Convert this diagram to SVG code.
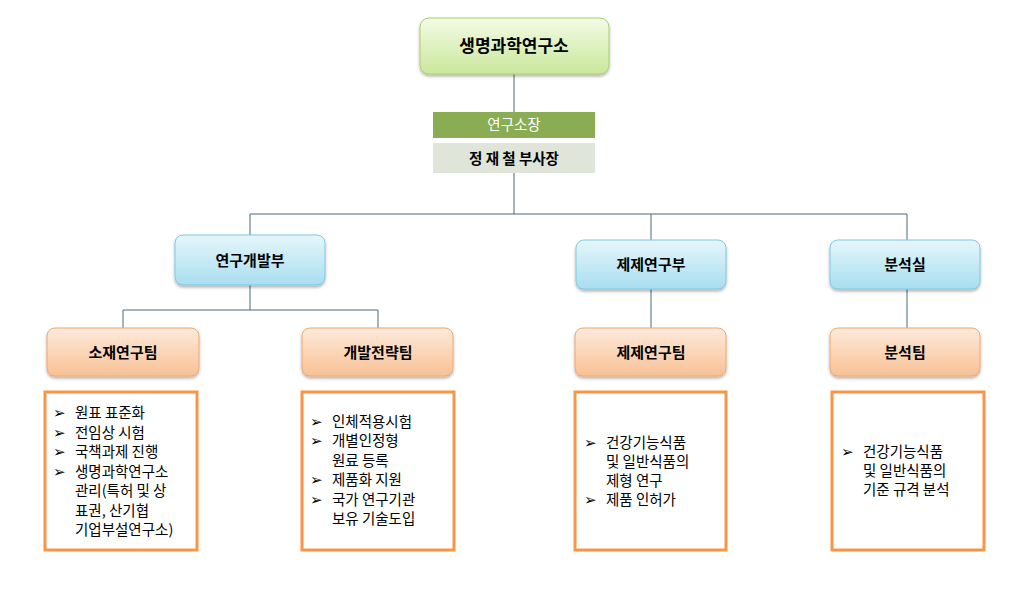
<svg xmlns="http://www.w3.org/2000/svg" width="1026" height="611" viewBox="0 0 1026 611">
<defs>
<linearGradient id="gG" x1="0" y1="0" x2="0" y2="1"><stop offset="0" stop-color="#f4fbe6"/><stop offset="1" stop-color="#c9e79b"/></linearGradient>
<linearGradient id="gB" x1="0" y1="0" x2="0" y2="1"><stop offset="0" stop-color="#e6f6fb"/><stop offset="1" stop-color="#a8def0"/></linearGradient>
<linearGradient id="gO" x1="0" y1="0" x2="0" y2="1"><stop offset="0" stop-color="#fdeadb"/><stop offset="1" stop-color="#f8c195"/></linearGradient>
<filter id="sh" x="-10%" y="-10%" width="120%" height="130%"><feDropShadow dx="0" dy="2" stdDeviation="1.5" flood-color="#000" flood-opacity="0.3"/></filter>
</defs>
<style>
text{font-family:"Noto Sans CJK KR","Noto Sans",sans-serif;fill:#000}
.t{font-size:15px;font-weight:bold;text-anchor:middle}
.b{font-size:14.5px}
.g{stroke:#a8cf6a;stroke-width:1}
.bl{stroke:#7dc9e3;stroke-width:1}
.o{stroke:#f0a86b;stroke-width:1}
.box{fill:#fff;stroke:#f79646;stroke-width:3}
.ln{stroke:#4a6b80;stroke-width:1;fill:none}
</style>
<rect width="1026" height="611" fill="#fff"/>
<g id="connectors">
<path class="ln" d="M514 74V112M514 173V214M250 214H907M250 214V235M651 214V240M907 214V240M250 285V310M123 310H378M123 310V328M378 310V328M651 289V328M907 289V328"/>
</g>
<g id="root"><rect x="420" y="18" width="189" height="56" rx="9" fill="url(#gG)" class="g" filter="url(#sh)"/><text class="t" x="514" y="52" style="font-size:17px">생명과학연구소</text></g>
<g id="director"><rect x="433" y="112" width="162" height="26" fill="#8aac52"/><text x="514" y="130" style="font-size:14.5px;text-anchor:middle;fill:#fff">연구소장</text></g>
<g id="vice"><rect x="433" y="143" width="162" height="30" fill="#dfe5d8"/><text x="514" y="164" style="font-size:14.5px;font-weight:bold;text-anchor:middle">정 재 철 부사장</text></g>
<g id="rnd"><rect x="175" y="235" width="150" height="50" rx="8" fill="url(#gB)" class="bl" filter="url(#sh)"/><text class="t" x="250" y="266">연구개발부</text></g>
<g id="formul"><rect x="576" y="240" width="150" height="49" rx="8" fill="url(#gB)" class="bl" filter="url(#sh)"/><text class="t" x="651" y="270">제제연구부</text></g>
<g id="analysis"><rect x="830" y="240" width="150" height="49" rx="8" fill="url(#gB)" class="bl" filter="url(#sh)"/><text class="t" x="905" y="270">분석실</text></g>
<g id="team1"><rect x="47" y="328" width="152" height="48" rx="8" fill="url(#gO)" class="o" filter="url(#sh)"/><text class="t" x="123" y="358">소재연구팀</text></g>
<g id="team2"><rect x="302" y="328" width="151" height="48" rx="8" fill="url(#gO)" class="o" filter="url(#sh)"/><text class="t" x="378" y="358">개발전략팀</text></g>
<g id="team3"><rect x="575" y="328" width="151" height="48" rx="8" fill="url(#gO)" class="o" filter="url(#sh)"/><text class="t" x="651" y="358">제제연구팀</text></g>
<g id="team4"><rect x="830" y="328" width="150" height="48" rx="8" fill="url(#gO)" class="o" filter="url(#sh)"/><text class="t" x="905" y="358">분석팀</text></g>
<g id="desc1"><rect class="box" x="45" y="392" width="152" height="158"/>
<text class="b"><tspan x="53" y="418">➢</tspan><tspan x="75" y="418">원표 표준화</tspan><tspan x="53" y="438">➢</tspan><tspan x="75" y="438">전임상 시험</tspan><tspan x="53" y="457">➢</tspan><tspan x="75" y="457">국책과제 진행</tspan><tspan x="53" y="477">➢</tspan><tspan x="75" y="477">생명과학연구소</tspan><tspan x="75" y="496">관리(특허 및 상</tspan><tspan x="75" y="516">표권, 산기협</tspan><tspan x="75" y="535">기업부설연구소)</tspan></text></g>
<g id="desc2"><rect class="box" x="302" y="392" width="152" height="158"/>
<text class="b"><tspan x="310" y="427">➢</tspan><tspan x="332" y="427">인체적용시험</tspan><tspan x="310" y="446">➢</tspan><tspan x="332" y="446">개별인정형</tspan><tspan x="332" y="466">원료 등록</tspan><tspan x="310" y="485">➢</tspan><tspan x="332" y="485">제품화 지원</tspan><tspan x="310" y="505">➢</tspan><tspan x="332" y="505">국가 연구기관</tspan><tspan x="332" y="524">보유 기술도입</tspan></text></g>
<g id="desc3"><rect class="box" x="575" y="392" width="151" height="158"/>
<text class="b"><tspan x="584" y="448">➢</tspan><tspan x="606" y="448">건강기능식품</tspan><tspan x="606" y="467">및 일반식품의</tspan><tspan x="606" y="486">제형 연구</tspan><tspan x="584" y="505">➢</tspan><tspan x="606" y="505">제품 인허가</tspan></text></g>
<g id="desc4"><rect class="box" x="832" y="392" width="152" height="158"/>
<text class="b"><tspan x="841" y="457">➢</tspan><tspan x="863" y="457">건강기능식품</tspan><tspan x="863" y="476">및 일반식품의</tspan><tspan x="863" y="495">기준 규격 분석</tspan></text></g>
</svg>
